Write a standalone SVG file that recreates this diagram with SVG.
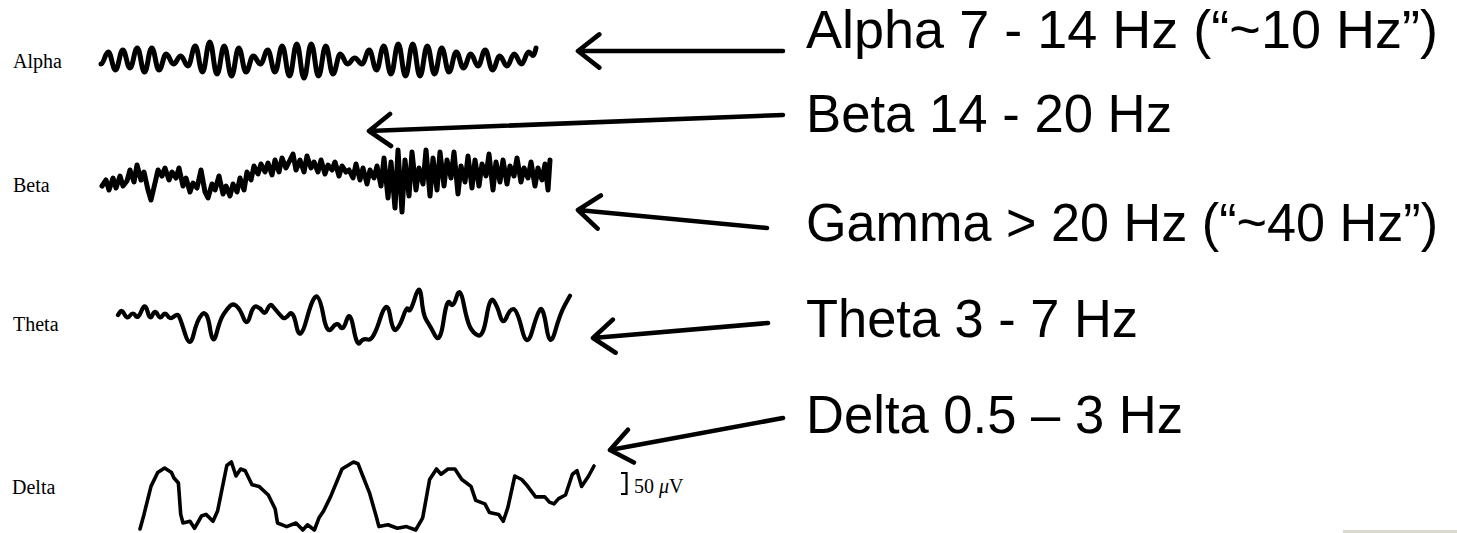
<svg xmlns="http://www.w3.org/2000/svg" width="1457" height="533" viewBox="0 0 1457 533">
<style>
.lbl{font-family:"Liberation Serif","Times New Roman",serif;font-size:20px;fill:#000}
.big{font-family:"Liberation Sans",Arial,sans-serif;font-size:54px;fill:#000}
.wave{fill:none;stroke:#000;stroke-linejoin:round;stroke-linecap:round}
.arr{fill:none;stroke:#000;stroke-width:4.6;stroke-linecap:round;stroke-linejoin:round}
</style>
<rect width="1457" height="533" fill="#fff"/>
<g id="alpha">
<text class="lbl" x="13" y="68">Alpha</text>
<path class="wave" stroke-width="5" d="M101 64 C104 64 105.25 52 108.25 52 S112.5 70 115.5 70 S119.75 50 122.75 50 S127 68 130 68 S134.25 48 137.25 48 S141.5 72 144.5 72 S148.75 48 151.75 48 S156 70 159 70 S163.25 54 166.25 54 S170.5 64 173.5 64 S177.75 56 180.75 56 S185 66 188 66 S192.25 46 195.25 46 S199.5 72 202.5 72 S206.75 42 209.75 42 S214 74 217 74 S221.25 46 224.25 46 S228.5 76 231.5 76 S235.75 48 238.75 48 S243 72 246 72 S250.25 56 253.25 56 S257.5 64 260.5 64 S264.75 50 267.75 50 S272 72 275 72 S279.25 46 282.25 46 S286.5 76 289.5 76 S293.75 44 296.75 44 S301 78 304 78 S308.25 44 311.25 44 S315.5 76 318.5 76 S322.75 46 325.75 46 S330 74 333 74 S337.25 54 340.25 54 S344.5 64 347.5 64 S351.75 58 354.75 58 S359 64 362 64 S366.25 50 369.25 50 S373.5 70 376.5 70 S380.75 46 383.75 46 S388 74 391 74 S395.25 44 398.25 44 S402.5 76 405.5 76 S409.75 44 412.75 44 S417 76 420 76 S424.25 46 427.25 46 S431.5 74 434.5 74 S438.75 48 441.75 48 S446 72 449 72 S453.25 52 456.25 52 S460.5 68 463.5 68 S467.75 54 470.75 54 S475 66 478 66 S482.25 50 485.25 50 S489.5 70 492.5 70 S496.75 56 499.75 56 S504 66 507 66 S511.25 54 514.25 54 S518.5 64 521.5 64 S525.75 52 528.75 52 S533 62 536 48"/>
</g>
<g id="beta">
<text class="lbl" x="13" y="192">Beta</text>
<polyline class="wave" stroke-width="5" points="102,186 106,180 109,190 113,178 116,188 120,176 123,186 127,181 130,170 134,182 137,165 141,180 144,172 148,190 151,200 155,183 158,170 162,176 165,168 169,180 172,172 176,178 179,168 183,186 186,178 190,192 193,183 197,188 201,170 205,192 208,198 212,184 215,190 219,176 223,194 226,186 230,196 233,184 237,192 240,178 244,190 247,172 251,180 254,166 258,174 261,164 265,172 268,163 272,175 275,160 279,172 282,158 286,168 289,162 293,154 296,170 300,160 304,172 307,156 311,168 314,162 318,172 321,160 325,174 328,165 332,170 335,162 339,176 342,166 346,172 349,170 353,178 356,164 360,180 363,168 367,184 370,170 374,178 377,166 381,186 384,158 388,198 391,162 395,208 398,150 402,212 405,160 409,196 412,152 416,190 419,168 423,184 426,150 430,196 433,158 437,190 440,152 444,186 447,160 451,178 454,152 458,194 461,166 465,182 468,156 472,188 475,160 479,186 482,164 486,176 489,154 493,190 496,162 500,182 503,160 507,184 510,166 514,176 517,158 521,182 524,168 528,178 531,162 535,186 538,168 542,180 545,164 548,190 550,160"/>
</g>
<g id="theta">
<text class="lbl" x="13" y="331">Theta</text>
<path class="wave" stroke-width="4.2" vector-effect="non-scaling-stroke" transform="matrix(1 0 0 1.2 0 -66.6)" d="M118 318 L120 315.5 Q122 313 124.5 317.5 Q127 322 130 318.5 Q133 315 135.5 318.5 Q138 322 141.5 314.5 Q145 307 147.5 315 Q150 323 152.5 318 Q155 313 157.5 317.5 Q160 322 162.5 318.5 Q165 315 167.5 318.5 Q170 322 173.5 319.5 Q177 317 178.5 318.5 Q180 320 185 333.5 Q190 347 193.5 334.5 Q197 322 202 317.5 Q207 313 210 329 Q213 345 216.5 333.5 Q220 322 223.5 317.5 Q227 313 230 310.5 Q233 308 236.5 310.5 Q240 313 243.5 320.5 Q247 328 250 319 Q253 310 256.5 311 Q260 312 262.5 315 Q265 318 267.5 313 Q270 308 272.5 310.5 Q275 313 277.5 315.5 Q280 318 282.5 320 Q285 322 289 317.5 Q293 313 296.5 327.5 Q300 342 306.5 322 Q313 302 316.5 302.5 Q320 303 323.5 319 Q327 335 332 329 Q337 323 340 327.5 Q343 332 346.5 322.5 Q350 313 353.5 329 Q357 345 360 341 Q363 337 368 338.5 Q373 340 380 321.5 Q387 303 390 318 Q393 333 396.5 330 Q400 327 403.5 318.5 Q407 310 408.5 313.5 Q410 317 415 303.5 Q420 290 421.5 304 Q423 318 426.5 322.5 Q430 327 435 335 Q440 343 443.5 323 Q447 303 450 308 Q453 313 456.5 303 Q460 293 463.5 308 Q467 323 470 328 Q473 333 478 335 Q483 337 486.5 319.5 Q490 302 493.5 306 Q497 310 500 318.5 Q503 327 506.5 320 Q510 313 513.5 313 Q517 313 522 330 Q527 347 532 332 Q537 317 540 313.5 Q543 310 546.5 328.5 Q550 347 555 332 Q560 317 565 309.5 L570 302"/>
</g>
<g id="delta">
<text class="lbl" x="12" y="494">Delta</text>
<polyline class="wave" stroke-width="3.6" points="140,529 144,514.4 151,486.4 157.7,472.5 164.6,468 171.5,472.5 173.8,477.7 178.4,483 180.7,514.4 183,523 190,521.3 194.5,528.3 201.5,516 206,514.4 213,521.3 217.6,511 226.8,465.5 231.4,462 236,476 240.6,469 245.2,470.7 252,484.7 259,486.4 268.3,495 275.2,509 277.5,523 286.7,526.6 296,523 302.8,530 307.5,524.8 314.4,530 319,517.8 323.6,510.9 330.5,496.9 342,469 353.5,462 358,463.7 362.8,476 369.7,493.4 376.6,517.8 378.9,526.6 388,524.8 397.3,528.3 406.5,526.6 415.7,530 422.7,517.8 429.6,479.5 436.5,469 441,474.2 448,469 454.9,469 461.8,479.5 471,486.4 475.7,500.4 484.9,503.9 489.5,512.6 498.7,514.4 503.3,521.3 507.9,507.4 514.8,476 521.7,479.5 526.4,484.7 535.6,496.9 544.8,496.9 549.4,502.1 554,503.9 558.6,498.6 565.5,495 572.4,474.2 577,470.7 581.6,486.4 588.6,476 594,466"/>
<path d="M621 473 H626.5 V494 H621" fill="none" stroke="#000" stroke-width="2.2"/>
<text class="lbl" x="634" y="493" font-size="18">50 <tspan font-style="italic">μ</tspan>V</text>
</g>
<g id="label-alpha"><text class="big" x="806" y="48" textLength="632" lengthAdjust="spacingAndGlyphs">Alpha 7 - 14 Hz (“~10 Hz”)</text></g>
<g id="label-beta"><text class="big" x="806" y="132" textLength="366" lengthAdjust="spacingAndGlyphs">Beta 14 - 20 Hz</text></g>
<g id="label-gamma"><text class="big" x="806" y="241" font-size="51" textLength="632" lengthAdjust="spacingAndGlyphs">Gamma &gt; 20 Hz (“~40 Hz”)</text></g>
<g id="label-theta"><text class="big" x="806" y="337" textLength="332" lengthAdjust="spacingAndGlyphs">Theta 3 - 7 Hz</text></g>
<g id="label-delta"><text class="big" x="806" y="433" textLength="377" lengthAdjust="spacingAndGlyphs">Delta 0.5 – 3 Hz</text></g>
<g id="connectors">
<path class="arr" d="M783 51 L578 51 M599.3 34.4 L578 51 L599.3 67.6"/>
<path class="arr" d="M783 115 L369 131 M390 114 L369 131 L391 146"/>
<path class="arr" d="M767 228 L578 210 M600.8 195.5 L578 210 L597.6 228.6"/>
<path class="arr" d="M768 323 L593 338 M612.8 319.6 L593 338 L615.6 352.7"/>
<path class="arr" d="M783 418 L610 450 M627.9 429.8 L610 450 L633.9 462.5"/>
</g>
<rect x="1343" y="530" width="114" height="3" fill="#dcd8cf"/>
</svg>
